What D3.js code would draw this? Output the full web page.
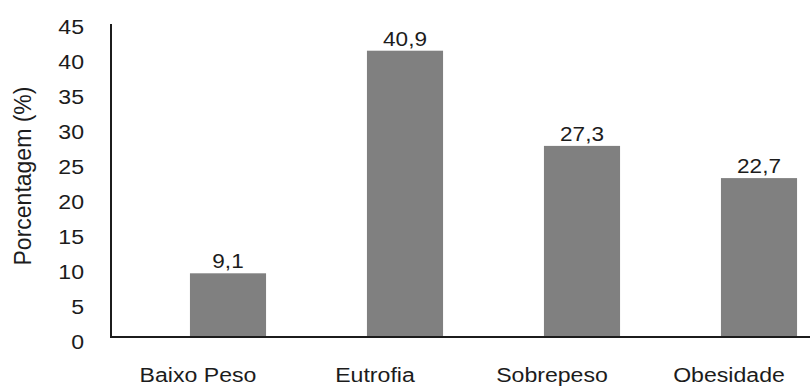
<!DOCTYPE html>
<html>
<head>
<meta charset="utf-8">
<script src="https://cdn.jsdelivr.net/npm/d3@7"></script>
<style>
  html, body { margin: 0; padding: 0; background: #ffffff; }
  svg { display: block; font-family: "Liberation Sans", Arial, sans-serif; }
</style>
</head>
<body>
<svg id="chart" width="810" height="388"></svg>
<script>
const categories = ["Baixo Peso", "Eutrofia", "Sobrepeso", "Obesidade"];
const values = [9.1, 40.9, 27.3, 22.7];
const valueLabels = ["9,1", "40,9", "27,3", "22,7"];
const yTicks = [0, 5, 10, 15, 20, 25, 30, 35, 40, 45];
const yTitle = "Porcentagem (%)";

const svg = d3.select("#chart");
const W = 810, H = 388;
const baseY = 337, axisX = 111, axisTop = 24;
const sx = 1.1; // horizontal text stretch seen in the reference
const ink = "#1c1c1c";

const y = d3.scaleLinear().domain([0, 45]).range([baseY, 22]);
const x = d3.scaleBand().domain(categories)
  .range([139.5, 847.5]).paddingInner(0.57).paddingOuter(0.285);

// bars
svg.append("g").selectAll("rect").data(values).join("rect")
  .attr("x", (d, i) => x(categories[i]))
  .attr("y", d => y(d))
  .attr("width", x.bandwidth())
  .attr("height", d => baseY - y(d))
  .attr("fill", "#808080");

// value labels
svg.append("g").selectAll("text").data(values).join("text")
  .attr("transform", (d, i) => `translate(${x(categories[i]) + x.bandwidth() / 2},${y(d) - 5}) scale(${sx},1)`)
  .attr("text-anchor", "middle")
  .attr("font-size", 20.5)
  .attr("fill", ink)
  .text((d, i) => valueLabels[i]);

// y axis (line + labels, no tick marks)
const yAxis = d3.axisLeft(y).tickValues(yTicks).tickSize(0).tickPadding(0).tickFormat(d3.format("d"));
const gy = svg.append("g").attr("transform", `translate(${axisX},0)`).call(yAxis);
gy.select(".domain").remove();
gy.selectAll("text")
  .attr("font-size", 21)
  .attr("font-family", "Liberation Sans, Arial, sans-serif")
  .attr("fill", ink)
  .attr("x", null).attr("dy", null)
  .attr("text-anchor", "end")
  .attr("transform", `translate(-27,11.5) scale(${sx},1)`);
svg.append("line")
  .attr("x1", axisX).attr("x2", axisX)
  .attr("y1", axisTop).attr("y2", baseY)
  .attr("stroke", ink).attr("stroke-width", 2);

// x axis line
svg.append("line")
  .attr("x1", axisX - 1).attr("x2", W)
  .attr("y1", baseY).attr("y2", baseY)
  .attr("stroke", ink).attr("stroke-width", 2);

// category labels
svg.append("g").selectAll("text").data(categories).join("text")
  .attr("transform", d => `translate(${x(d) + x.bandwidth() / 2 - 30},382) scale(${sx},1)`)
  .attr("text-anchor", "middle")
  .attr("font-size", 21)
  .attr("fill", ink)
  .text(d => d);

// y title
svg.append("text")
  .attr("transform", `translate(31,176) rotate(-90)`)
  .attr("text-anchor", "middle")
  .attr("font-size", 23)
  .attr("fill", ink)
  .text(yTitle);
</script>
</body>
</html>
